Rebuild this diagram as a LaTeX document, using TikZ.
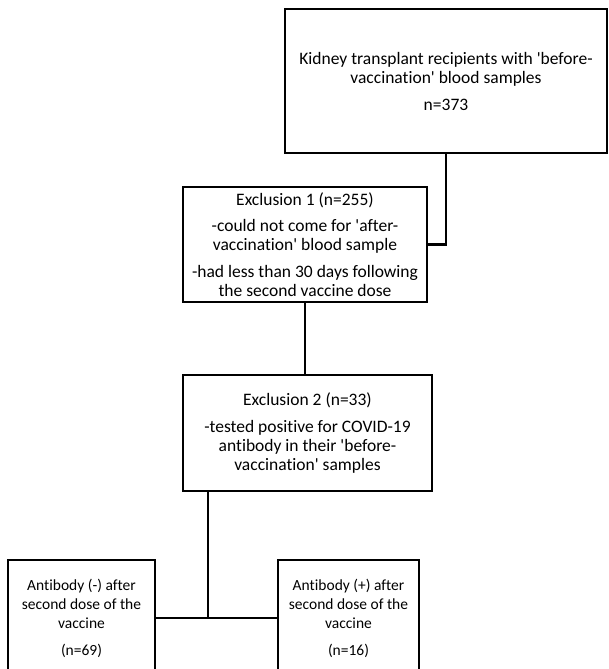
\documentclass[tikz,border=0pt]{standalone}
\usepackage{fontspec}
\setmainfont{Carlito}[Ligatures=NoCommon]
\newcommand{\q}{\textquotesingle}
\tikzset{
  box/.style={draw, line width=2.4pt, align=center, inner sep=0pt,
    font=\fontsize{17.5}{19}\selectfont},
  small box/.style={box, font=\fontsize{15.5}{19}\selectfont},
  link/.style={line width=2.4pt}
}
\begin{document}
\begin{tikzpicture}[x=1pt, y=-1pt]
    \useasboundingbox (0, 0) rectangle (608, 669);
    \node [box, minimum width=322, minimum height=144] (start) at (446, 81)
      {Kidney transplant recipients with \q before-\\vaccination\q\ blood samples\\[8pt] n=373};
    \node [box, minimum width=244, minimum height=115] (excl1) at (305, 244.5)
      {Exclusion 1 (n=255)\\[7pt] -could not come for \q after-\\vaccination\q\ blood sample\\[8pt] -had less than 30 days following\\the second vaccine dose};
    \node [box, minimum width=249, minimum height=116] (excl2) at (307.5, 433)
      {Exclusion 2 (n=33)\\[8pt] -tested positive for COVID-19\\antibody in their \q before-\\vaccination\q\ samples};
    \node [small box, minimum width=147, minimum height=116] (neg) at (81.5, 618)
      {Antibody (-) after\\second dose of the\\vaccine\\[8pt] (n=69)};
    \node [small box, minimum width=141, minimum height=116] (pos) at (348.5, 618)
      {Antibody (+) after\\second dose of the\\vaccine\\[8pt] (n=16)};
    \coordinate (split) at (208, 618);

    \draw [link] (start.south) |- (excl1.east);
    \draw [link] (excl1.south) -- (excl1.south |- excl2.north);
    \draw [link] (excl2.south -| split) -- (split);
    \draw [link] (neg.east) -- (pos.west);
\end{tikzpicture}
\end{document}
